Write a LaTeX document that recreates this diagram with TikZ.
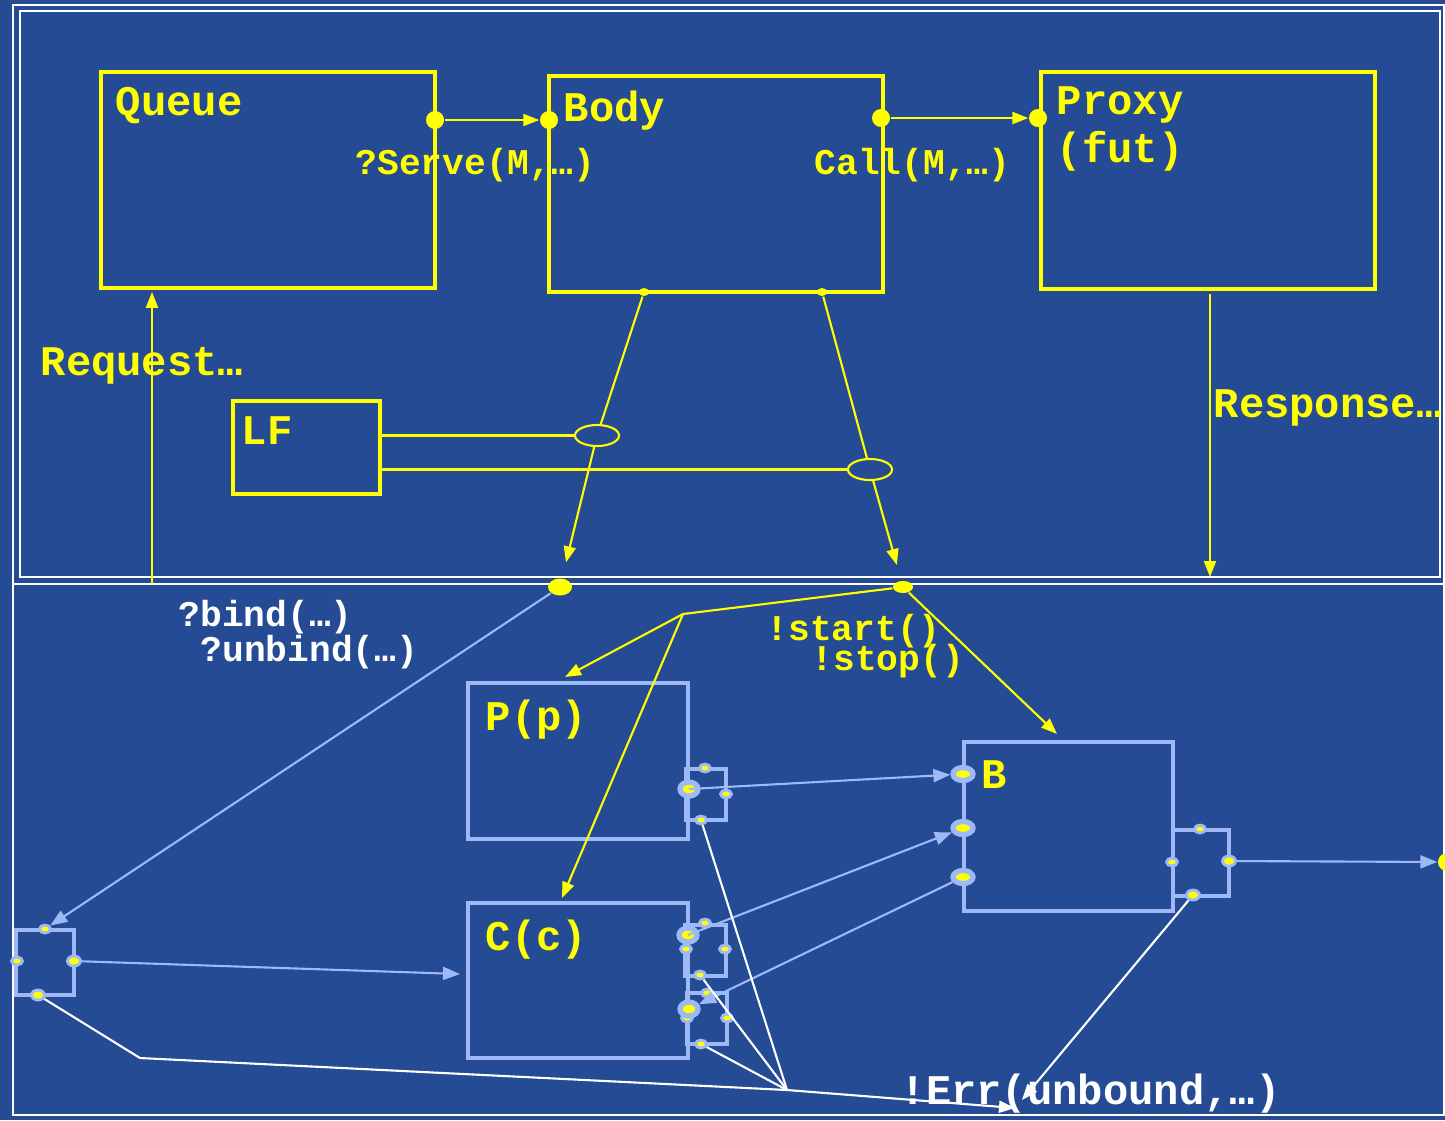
\documentclass[tikz,border=0pt]{standalone}
\usepackage{fontspec}
\setmonofont{Liberation Mono}
\usepackage{tikz}
\usetikzlibrary{shapes.geometric, arrows.meta, positioning, calc}
\definecolor{panelblue}{HTML}{244B94}
\definecolor{portblue}{HTML}{9DB9F8}
\definecolor{sigyellow}{HTML}{FFFF00}

\begin{document}
\begin{tikzpicture}[x=0.01cm, y=-0.01cm,
  ybox/.style={rectangle, draw=sigyellow, line width=1pt, inner sep=0},
  lbbox/.style={rectangle, draw=portblue, line width=1.1pt, inner sep=0},
  big/.style={font=\ttfamily\bfseries\fontsize{12}{13.5}\selectfont, inner sep=0, align=left},
  small/.style={font=\ttfamily\bfseries\fontsize{10.3}{12}\selectfont, inner sep=0},
  ydot/.style={circle, fill=sigyellow, inner sep=0, minimum size=0.18cm},
  ytick/.style={ellipse, fill=sigyellow, inner sep=0, minimum width=0.1cm, minimum height=0.08cm},
  ring/.style={ellipse, draw=sigyellow, line width=0.6pt, inner sep=0, minimum width=0.44cm, minimum height=0.21cm},
  pdot/.style={ellipse, fill=sigyellow, draw=portblue, line width=0.8pt, inner sep=0, minimum width=0.11cm, minimum height=0.08cm},
  pdotbig/.style={pdot, line width=1.5pt, minimum width=0.18cm, minimum height=0.14cm},
  yline/.style={draw=sigyellow, line width=0.6pt},
  yarrow/.style={yline, -{Triangle[length=0.16cm, width=0.12cm]}},
  barrow/.style={draw=portblue, line width=0.6pt, -{Triangle[length=0.17cm, width=0.13cm]}},
  wline/.style={draw=white, line width=0.6pt},
  warrow/.style={wline, -{Triangle[length=0.16cm, width=0.12cm]}}
]
  \useasboundingbox (0,0) rectangle (1445,1120);
  \fill[panelblue] (0,0) rectangle (1445,1120);
  \draw[white, line width=0.6pt] (13,5) rectangle (1444,584);
  \draw[white, line width=0.6pt] (20,11) rectangle (1440,577);
  \draw[white, line width=0.6pt] (13,584) rectangle (1444,1115);

  % upper panel
  \node[ybox, minimum width=3.34cm, minimum height=2.16cm] (queue) at (268,180) {};
  \node[ybox, minimum width=3.34cm, minimum height=2.16cm] (body) at (716,184) {};
  \node[ybox, minimum width=3.34cm, minimum height=2.17cm] (proxy) at (1208,180.5) {};
  \node[ybox, minimum width=1.47cm, minimum height=0.93cm] (lf) at (306.5,447.5) {};
  \node[big, text=sigyellow, below right=0.16cm and 0.16cm of queue.north west] (queuelbl) {Queue};
  \node[big, text=sigyellow, below right=0.16cm and 0.16cm of body.north west] (bodylbl) {Body};
  \node[big, text=sigyellow, below right=0.16cm and 0.17cm of proxy.north west] (proxylbl) {Proxy\\(fut)};
  \node[big, text=sigyellow, below right=0.17cm and 0.1cm of lf.north west] (lflbl) {LF};

  \node[ydot] (qout) at (435,120) {};
  \node[ydot] (bin) at (549,120) {};
  \node[ydot] (bout) at (881,118) {};
  \node[ydot] (pin) at (1038,118) {};
  \draw[yarrow] (qout) -- (bin);
  \draw[yarrow] (bout) -- (pin);
  \node[small, text=sigyellow, anchor=base west] (servelbl) at (355,174) {?Serve(M,…)};
  \node[small, text=sigyellow, anchor=base west] (calllbl) at (814,174) {Call(M,…)};

  \node[ytick] (bodyl) at (644,292) {};
  \node[ytick] (bodyr) at (822,292) {};
  \node[ring] (ringl) at (597,435.5) {};
  \node[ring] (ringr) at (870,469.5) {};
  \node[ellipse, fill=sigyellow, inner sep=0, minimum width=0.24cm, minimum height=0.17cm] (binddot) at (560,587) {};
  \node[ellipse, fill=sigyellow, inner sep=0, minimum width=0.2cm, minimum height=0.12cm] (startdot) at (903,587) {};
  \draw[yline] (bodyl) -- (ringl);
  \draw[yarrow, shorten >=0.16cm] (ringl) -- (binddot);
  \draw[yline] (bodyr) -- (ringr);
  \draw[yarrow, shorten >=0.16cm] (ringr) -- (startdot);
  \draw[yline] (lf.east |- ringl) -- (ringl);
  \draw[yline] (lf.east |- ringr) -- (ringr);

  \coordinate (reqfoot) at (152,584);
  \coordinate (respfoot) at (1210,577);
  \draw[yarrow, shorten >=0.02cm] (reqfoot) -- (reqfoot |- queue.south);
  \draw[yarrow, shorten <=0.03cm] (respfoot |- proxy.south) -- (respfoot);
  \node[big, text=sigyellow, anchor=base west] (reqlbl) at (40,375) {Request…};
  \node[big, text=sigyellow, anchor=base west] (resplbl) at (1213,417) {Response…};

  % lower panel
  \node[lbbox, minimum width=2.2cm, minimum height=1.56cm] (pbox) at (578,761) {};
  \node[lbbox, minimum width=2.2cm, minimum height=1.55cm] (cbox) at (578,980.5) {};
  \node[lbbox, minimum width=2.09cm, minimum height=1.69cm] (bbox) at (1068.5,826.5) {};
  \node[big, text=sigyellow, below right=0.18cm and 0.19cm of pbox.north west] (plbl) {P(p)};
  \node[big, text=sigyellow, below right=0.18cm and 0.19cm of cbox.north west] (clbl) {C(c)};
  \node[big, text=sigyellow, below right=0.2cm and 0.19cm of bbox.north west] (blbl) {B};

  \node[lbbox, minimum width=0.4cm, minimum height=0.51cm] (pport) at (706,794.5) {};
  \node[lbbox, minimum width=0.41cm, minimum height=0.51cm] (cport) at (705.5,950.5) {};
  \node[lbbox, minimum width=0.4cm, minimum height=0.51cm] (cportb) at (707,1018.5) {};
  \node[lbbox, minimum width=0.56cm, minimum height=0.66cm] (bport) at (1201,863) {};
  \node[lbbox, minimum width=0.58cm, minimum height=0.65cm] (lport) at (45,962.5) {};

  \node[pdot] (pptop) at (705,768) {};
  \node[pdotbig] (ppleft) at (689,789) {};
  \node[pdot] (ppright) at (726,794) {};
  \node[pdot] (ppbot) at (701,820) {};
  \node[pdot] (cptop) at (705,923) {};
  \node[pdot] (cpleftb) at (686,949) {};
  \node[pdotbig] (cpleft) at (688,935) {};
  \node[pdot] (cpright) at (725,949) {};
  \node[pdot] (cpbot) at (700,975) {};
  \node[pdot] (cbtop) at (707,993) {};
  \node[pdot] (cbleftb) at (687,1018) {};
  \node[pdotbig] (cbleft) at (689,1009) {};
  \node[pdot] (cbright) at (727,1018) {};
  \node[pdot] (cbbot) at (701,1044) {};
  \node[pdotbig, minimum width=0.2cm, minimum height=0.13cm] (bin1) at (963,774) {};
  \node[pdotbig, minimum width=0.2cm, minimum height=0.13cm] (bin2) at (963,828) {};
  \node[pdotbig, minimum width=0.2cm, minimum height=0.13cm] (bin3) at (963,877) {};
  \node[pdot] (bptop) at (1200,829) {};
  \node[pdot] (bpleft) at (1172,862) {};
  \node[pdot, minimum width=0.13cm, minimum height=0.1cm] (bpright) at (1229,861) {};
  \node[pdot, minimum width=0.13cm, minimum height=0.1cm] (bpbot) at (1193,895) {};
  \node[pdot] (lptop) at (45,929) {};
  \node[pdot] (lpleft) at (17,961) {};
  \node[pdot, minimum width=0.13cm, minimum height=0.1cm] (lpright) at (74,961) {};
  \node[pdot, minimum width=0.13cm, minimum height=0.1cm] (lpbot) at (38,995) {};
  \node[ydot] (extdot) at (1447,862) {};

  \coordinate (fork) at (683,614);
  \coordinate (ptip) at (565,677);
  \coordinate (ctip) at (562,898);
  \coordinate (btip) at (1057,734);
  \draw[yline] (startdot) -- (fork);
  \draw[yarrow] (fork) -- (ptip);
  \draw[yarrow] (fork) -- (ctip);
  \draw[yarrow] (startdot) -- (btip);
  \node[small, text=sigyellow, anchor=base west] (startlbl) at (766,640) {!start()};
  \node[small, text=sigyellow, anchor=base west] (stoplbl) at (811,670) {!stop()};
  \node[small, text=white, anchor=base west] (bindlbl) at (178,626) {?bind(…)};
  \node[small, text=white, anchor=base west] (unbindlbl) at (200,661) {?unbind(…)};

  \coordinate (ctarget) at (460,974);
  \draw[barrow] (binddot) -- (lptop);
  \draw[barrow] (lpright) -- (ctarget);
  \draw[barrow] (ppleft.center) -- (bin1);
  \draw[barrow] (cpleft.center) -- (bin2);
  \draw[barrow] (bin3) -- (cbleft);
  \draw[barrow] (bpright) -- (extdot);

  \coordinate (merge) at (787,1090);
  \coordinate (knee) at (140,1058);
  \coordinate (errtip) at (1015,1108);
  \coordinate (errtipb) at (1022,1100);
  \draw[wline] (ppbot) -- (merge);
  \draw[wline] (cpbot) -- (merge);
  \draw[wline] (cbbot) -- (merge);
  \draw[wline] (lpbot) -- (knee) -- (merge);
  \draw[warrow] (merge) -- (errtip);
  \draw[warrow] (bpbot) -- (errtipb);
  \node[big, text=white, anchor=base west] (errlbl) at (900,1104) {!Err(unbound,…)};
\end{tikzpicture}
\end{document}
